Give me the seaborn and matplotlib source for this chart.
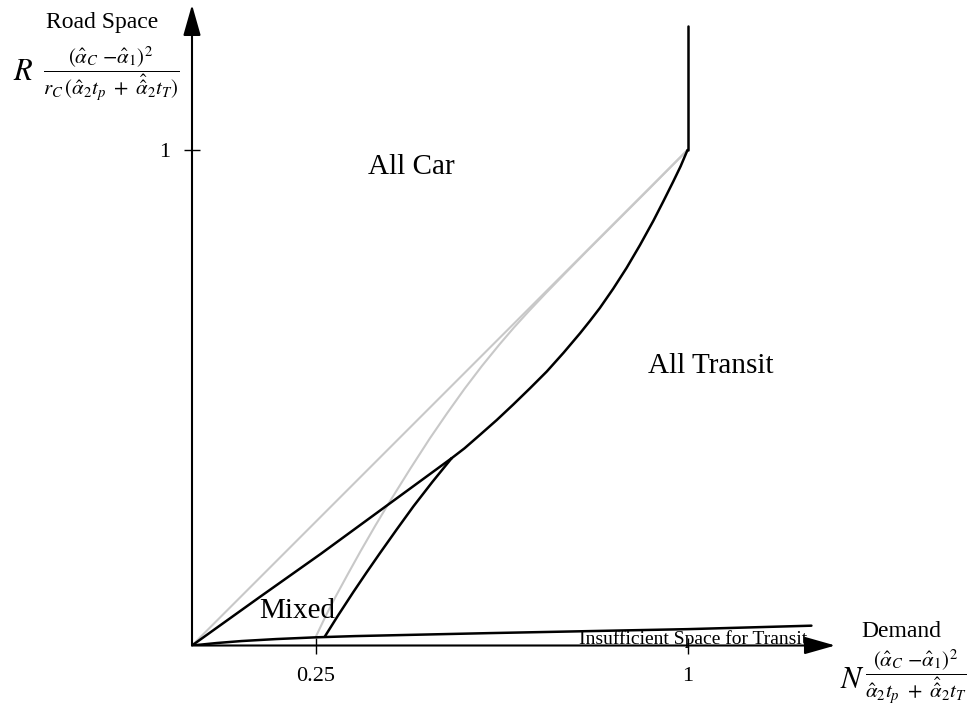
import matplotlib
matplotlib.use("Agg")
import matplotlib.pyplot as plt
import seaborn as sns

sns.set_style("white")
plt.rcParams['font.family'] = ['Liberation Serif', 'DejaVu Serif']
plt.rcParams['mathtext.fontset'] = 'stix'
plt.rcParams['text.color'] = 'black'

# --- values (x = demand, y = road space) ---
diag_x = [0.0, 1.0]
diag_y = [0.0, 1.0]

gray_curve_x = [0.25, 0.27, 0.29, 0.315, 0.34, 0.37, 0.40, 0.44, 0.48, 0.515, 0.55,
                0.585, 0.62, 0.65, 0.68, 0.715, 0.75, 0.80, 0.85, 0.925, 1.0]
gray_curve_y = [0.018, 0.060, 0.099, 0.145, 0.19, 0.242, 0.292, 0.356, 0.418, 0.469, 0.518,
                0.564, 0.607, 0.642, 0.675, 0.712, 0.748, 0.799, 0.849, 0.924, 1.0]

mixed_upper_x = [0.0, 0.137, 0.26, 0.379, 0.524]
mixed_upper_y = [0.0, 0.098, 0.185, 0.272, 0.378]

mixed_lower_x = [0.268, 0.295, 0.325, 0.352, 0.379, 0.413, 0.447, 0.485, 0.524]
mixed_lower_y = [0.018, 0.061, 0.107, 0.147, 0.186, 0.234, 0.281, 0.330, 0.378]

transit_x = [0.524, 0.55, 0.581, 0.615, 0.648, 0.682, 0.716, 0.75, 0.783, 0.803,
             0.823, 0.85, 0.877, 0.904, 0.931, 0.951, 0.971, 0.986, 1.0]
transit_y = [0.378, 0.398, 0.425, 0.455, 0.486, 0.519, 0.553, 0.591, 0.630, 0.655,
             0.681, 0.720, 0.762, 0.808, 0.857, 0.896, 0.936, 0.967, 1.0]

vert_x = [1.0, 1.0]
vert_y = [1.0, 1.25]

bottom_x = [0.0, 0.05, 0.1, 0.17, 0.25, 0.33, 0.42, 0.6, 0.8, 1.0, 1.25]
bottom_y = [0.0, 0.005, 0.009, 0.013, 0.0165, 0.019, 0.021, 0.025, 0.029, 0.033, 0.040]

tick_vals = [0.25, 1.0]
x_tick_labels = ['0.25', '1']
y_tick_vals = [1.0]
y_tick_labels = ['1']

num = r'(\hat{\alpha}_C\ {-}\hat{\alpha}_1)^2'
R_frac = r'$\dfrac{' + num + r'}{r_C\,(\hat{\alpha}_2 t_p\ +\ \hat{\hat{\alpha}}_2 t_T)}$'
N_frac = r'$\dfrac{' + num + r'}{\hat{\alpha}_2 t_p\ +\ \hat{\hat{\alpha}}_2 t_T}$'


def main():
    fig = plt.figure(figsize=(9.72, 7.13), dpi=100)
    ax = fig.add_axes([192 / 972, 67.5 / 713, 644.2 / 972, 644.2 / 713])
    ax.set_xlim(0, 1.3)
    ax.set_ylim(0, 1.3)
    for s in ax.spines.values():
        s.set_visible(False)

    gray = '#c8c8c8'
    kw = dict(ax=ax, sort=False, estimator=None, legend=False, solid_joinstyle='round')
    sns.lineplot(x=diag_x, y=diag_y, color=gray, linewidth=1.5, **kw)
    sns.lineplot(x=gray_curve_x, y=gray_curve_y, color=gray, linewidth=1.5, **kw)
    for xs, ys in [(mixed_upper_x, mixed_upper_y), (mixed_lower_x, mixed_lower_y),
                   (transit_x, transit_y), (vert_x, vert_y), (bottom_x, bottom_y)]:
        sns.lineplot(x=xs, y=ys, color='black', linewidth=1.8, **kw)

    # axes with arrow heads
    arrow = dict(arrowstyle='-|>,head_length=0.95,head_width=0.27', color='black',
                 lw=1.5, shrinkA=0, shrinkB=0, mutation_scale=20)
    ax.annotate('', xy=(1.298, 0), xytext=(0, 0), arrowprops=arrow, annotation_clip=False)
    ax.annotate('', xy=(0, 1.293), xytext=(0, 0), arrowprops=arrow, annotation_clip=False)

    ax.set_xticks(tick_vals)
    ax.set_xticklabels(x_tick_labels)
    ax.set_yticks(y_tick_vals)
    ax.set_yticklabels(y_tick_labels)
    ax.tick_params(direction='inout', length=12, width=1, labelsize=16, pad=9.5,
                   colors='black', bottom=True, left=True)
    ax.grid(False)

    # region labels
    ax.text(0.443, 0.952, 'All Car', fontsize=21, ha='center', va='baseline')
    ax.text(1.047, 0.55, 'All Transit', fontsize=21, ha='center', va='baseline')
    ax.text(0.212, 0.0555, 'Mixed', fontsize=21, ha='center', va='baseline')
    ax.text(1.242, 0.003, 'Insufficient Space for Transit', fontsize=14,
            ha='right', va='baseline')

    # axis titles
    fig.text(102.5 / 972, 1 - 28 / 713, 'Road Space', fontsize=17, ha='center', va='baseline')
    fig.text(13 / 972, 1 - 80 / 713, r'$R$', fontsize=22, ha='left', va='baseline')
    fig.text(111.5 / 972, 1 - 74 / 713, R_frac, fontsize=15, ha='center', va='center')

    fig.text(901 / 972, 1 - 636.7 / 713, 'Demand', fontsize=17, ha='center', va='baseline')
    fig.text(840 / 972, 1 - 688 / 713, r'$N$', fontsize=22, ha='left', va='baseline')
    fig.text(916 / 972, 1 - 677.5 / 713, N_frac, fontsize=15, ha='center', va='center')

    fig.savefig('out.png', dpi=100)


if __name__ == "__main__":
    main()
